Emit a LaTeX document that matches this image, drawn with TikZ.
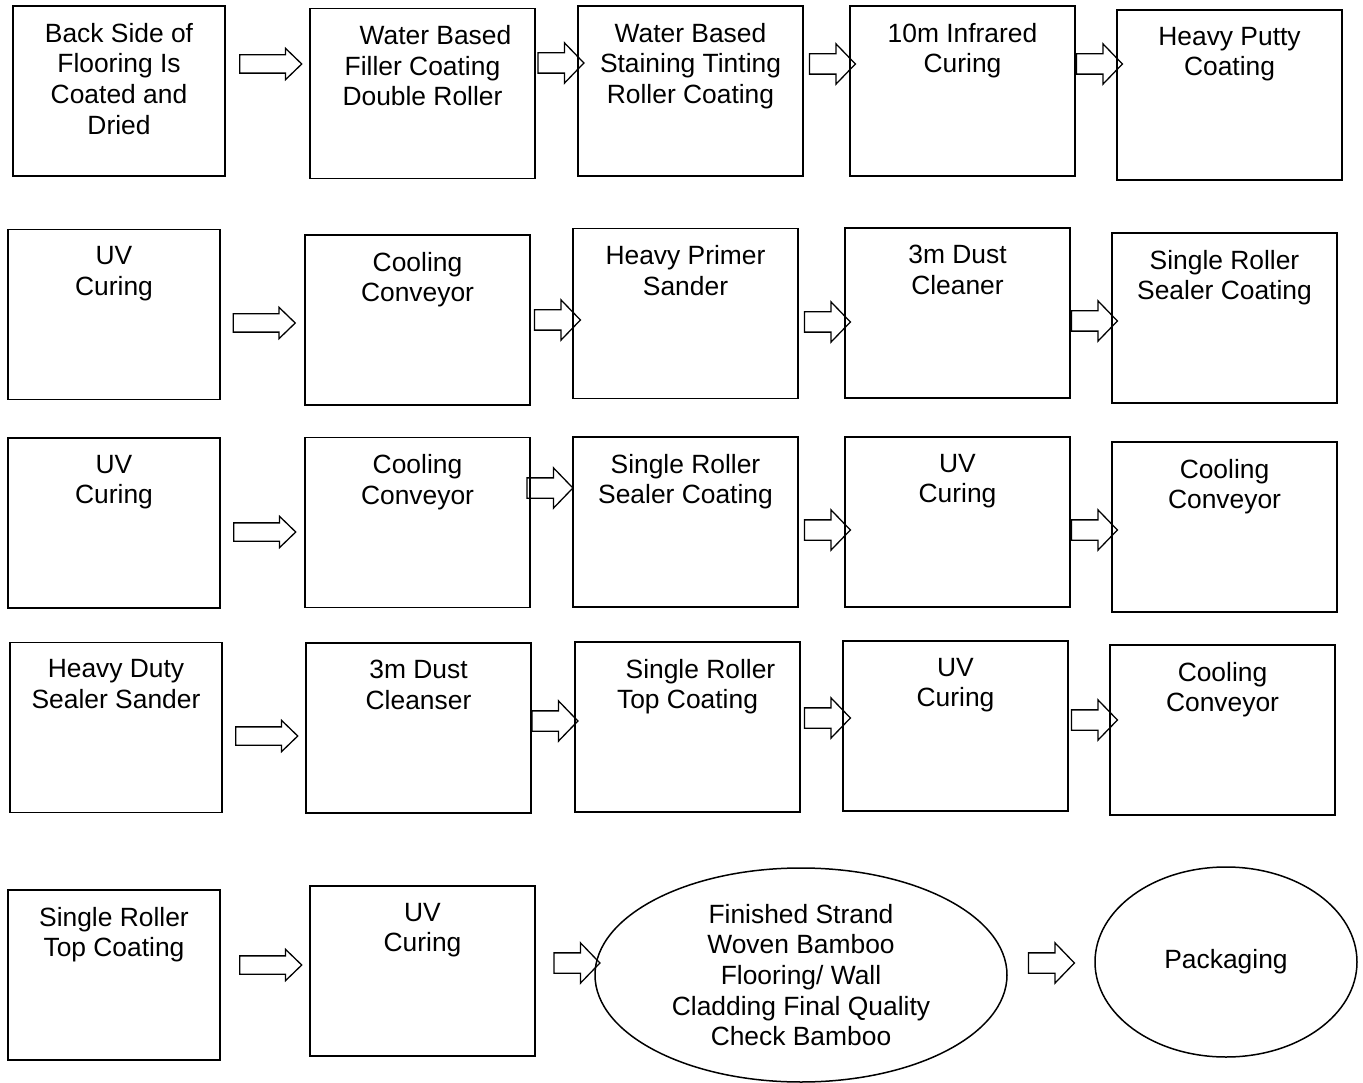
\documentclass[tikz,border=0pt]{standalone}
\usepackage{fontspec}
\setmainfont{Liberation Sans}
\usetikzlibrary{positioning,shapes.geometric,shapes.arrows}

\begin{document}
\begin{tikzpicture}[
  x=1pt, y=-1pt,
  box/.style={draw, line width=1.5pt, minimum width=225pt, minimum height=170pt, inner sep=0pt},
  firstbox/.style={box, minimum width=212pt},
  oval/.style={ellipse, draw, line width=1.5pt, inner sep=0pt, align=center, font=\fontsize{26.4}{30.7}\selectfont},
  txt/.style={align=center, inner sep=0pt, font=\fontsize{26.4}{30.7}\selectfont},
  fatarrow/.style={single arrow, draw, line width=1.3pt, inner xsep=0pt, inner ysep=8.5pt, minimum height=62pt, minimum width=0pt, single arrow head extend=6.5pt, single arrow tip angle=88},
  shortarrow/.style={fatarrow, inner ysep=9.5pt, minimum height=46pt, single arrow head extend=10pt, single arrow tip angle=92}
]
\useasboundingbox (0,0) rectangle (1363,1083);

% row 1
\node[firstbox] (backside) at (119,91) {};
\node[box] (filler) at (422.5,93.5) {};
\node[box] (staining) at (690.5,91) {};
\node[box] (infrared) at (962.5,91) {};
\node[box] (putty) at (1229.5,95) {};
\node[txt, below=17.5pt of backside.north] (backsidetxt) {Back Side of\\Flooring Is\\Coated and\\Dried};
\node[txt, below=17.5pt of filler.north] (fillertxt) {\hspace*{26pt}Water Based\\Filler Coating\\Double Roller};
\node[txt, below=17.5pt of staining.north] (stainingtxt) {Water Based\\Staining Tinting\\Roller Coating};
\node[txt, below=17.5pt of infrared.north] (infraredtxt) {10m Infrared\\Curing};
\node[txt, below=17.5pt of putty.north] (puttytxt) {Heavy Putty\\Coating};
\node[fatarrow] (ar1) at (266,64) {};
\node[shortarrow] (ar2) at (556,63) {};
\node[shortarrow] (ar3) at (827.5,64) {};
\node[shortarrow] (ar4) at (1094.5,64) {};

% row 2
\node[firstbox] (uvone) at (114,314.5) {};
\node[box] (coolone) at (417.5,320) {};
\node[box] (primer) at (685.5,313.5) {};
\node[box] (dustone) at (957.5,313) {};
\node[box] (sealerone) at (1224.5,318) {};
\node[txt, below=17.5pt of uvone.north] (uvonetxt) {UV\\Curing};
\node[txt, below=17.5pt of coolone.north] (coolonetxt) {Cooling\\Conveyor};
\node[txt, below=17.5pt of primer.north] (primertxt) {Heavy Primer\\Sander};
\node[txt, below=17.5pt of dustone.north] (dustonetxt) {3m Dust\\Cleaner};
\node[txt, below=17.5pt of sealerone.north] (sealeronetxt) {Single Roller\\Sealer Coating};
\node[fatarrow] (ar5) at (259.5,323) {};
\node[shortarrow] (ar6) at (552.5,320) {};
\node[shortarrow] (ar7) at (822.5,322) {};
\node[shortarrow] (ar8) at (1089.5,321) {};

% row 3
\node[firstbox] (uvtwo) at (114,523) {};
\node[box] (cooltwo) at (417.5,522.5) {};
\node[box] (sealertwo) at (685.5,522) {};
\node[box] (uvthree) at (957.5,522) {};
\node[box] (coolthree) at (1224.5,527) {};
\node[txt, below=17.5pt of uvtwo.north] (uvtwotxt) {UV\\Curing};
\node[txt, below=17.5pt of cooltwo.north] (cooltwotxt) {Cooling\\Conveyor};
\node[txt, below=17.5pt of sealertwo.north] (sealertwotxt) {Single Roller\\Sealer Coating};
\node[txt, below=17.5pt of uvthree.north] (uvthreetxt) {UV\\Curing};
\node[txt, below=17.5pt of coolthree.north] (coolthreetxt) {Cooling\\Conveyor};
\node[fatarrow] (ar9) at (260,532) {};
\node[shortarrow] (ar10) at (545,488) {};
\node[shortarrow] (ar11) at (822.5,530) {};
\node[shortarrow] (ar12) at (1089.5,530) {};

% row 4
\node[firstbox] (sander) at (116,727.5) {};
\node[box] (dusttwo) at (418.5,728) {};
\node[box] (topone) at (687.5,727) {};
\node[box] (uvfour) at (955.5,726) {};
\node[box] (coolfour) at (1222.5,730) {};
\node[txt, below=17.5pt of sander.north] (sandertxt) {Heavy Duty\\Sealer Sander};
\node[txt, below=17.5pt of dusttwo.north] (dusttwotxt) {3m Dust\\Cleanser};
\node[txt, below=17.5pt of topone.north] (toponetxt) {\hspace*{26pt}Single Roller\\Top Coating};
\node[txt, below=17.5pt of uvfour.north] (uvfourtxt) {UV\\Curing};
\node[txt, below=17.5pt of coolfour.north] (coolfourtxt) {Cooling\\Conveyor};
\node[fatarrow] (ar13) at (262,736) {};
\node[shortarrow] (ar14) at (550,721) {};
\node[shortarrow] (ar15) at (822.5,718) {};
\node[shortarrow] (ar16) at (1089.5,720) {};

% row 5
\node[firstbox] (toptwo) at (114,975) {};
\node[box] (uvfive) at (422.5,971) {};
\node[oval, minimum width=412pt, minimum height=214pt] (finished) at (801,975) {Finished Strand\\Woven Bamboo\\Flooring/ Wall\\Cladding Final Quality\\Check Bamboo};
\node[oval, minimum width=262pt, minimum height=190pt] (packaging) at (1226,962) {Packaging};
\node[txt, below=17.5pt of toptwo.north] (toptwotxt) {Single Roller\\Top Coating};
\node[txt, below=17.5pt of uvfive.north] (uvfivetxt) {UV\\Curing};
\node[fatarrow] (ar17) at (266,965) {};
\node[shortarrow] (ar18) at (572,963) {};
\node[shortarrow] (ar19) at (1046.5,963) {};
\end{tikzpicture}
\end{document}
